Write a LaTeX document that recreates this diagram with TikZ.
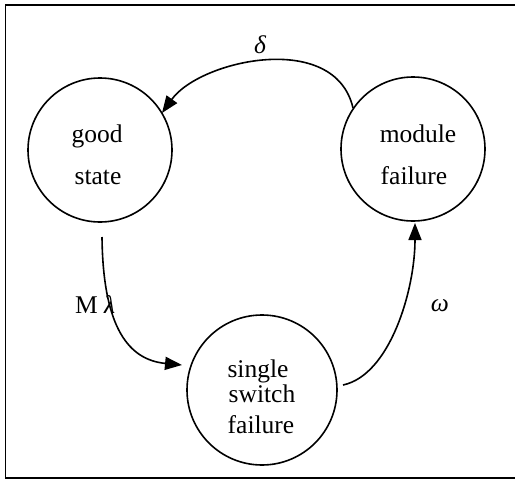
\documentclass[tikz,border=0pt]{standalone}
\usepackage{fontspec}
\setmainfont{Liberation Serif}
\usetikzlibrary{arrows.meta}
\begin{document}
\begin{tikzpicture}[x=1pt,y=-1pt,
  state/.style={draw,circle,line width=1.6pt,minimum size=#1,inner sep=0pt},
  txt/.style={anchor=base,inner sep=0pt,font=\fontsize{25.5}{30}\selectfont},
  conn/.style={line width=1.6pt,-{Triangle[length=17pt,width=13pt]}},
  frame/.style={line width=1.8pt}]
\useasboundingbox (0,0) rectangle (515,480);
% frame
\coordinate (fa) at (515,5);
\coordinate (fb) at (5.5,5);
\coordinate (fc) at (5.5,478);
\coordinate (fd) at (515,478);
\draw[frame] (fa) -- (fb) -- (fc) -- (fd);
% states
\node[state=144pt] (good) at (100,150) {};
\node[state=144pt] (module) at (413,149) {};
\node[state=150pt] (single) at (262,390) {};
% texts
\node[txt] (t1) at (97,142) {good};
\node[txt] (t2) at (98,184) {state};
\node[txt] (t3) at (418,142) {module};
\node[txt] (t4) at (414,184) {failure};
\node[txt] (t5) at (258,377) {single};
\node[txt] (t6) at (262,402) {switch};
\node[txt] (t7) at (261,433) {failure};
% transition labels
\node[txt] (ld) at (260,53) {\itshape δ};
\node[txt,anchor=base west] (ll) at (75,313) {M \itshape λ};
\node[txt] (lw) at (440,311) {\itshape ω};
% connectors
\coordinate (d0) at (353,108);
\coordinate (d1) at (162,113);
\draw[conn] (d0) .. controls (335,30) and (200,60) .. (d1);
\coordinate (m0) at (102,237);
\coordinate (m1) at (182,365);
\draw[conn] (m0) .. controls (103,330) and (130,360) .. (m1);
\coordinate (w0) at (343,385);
\coordinate (w1) at (415,223);
\draw[conn] (w0) .. controls (390,375) and (415,290) .. (w1);
\end{tikzpicture}
\end{document}
